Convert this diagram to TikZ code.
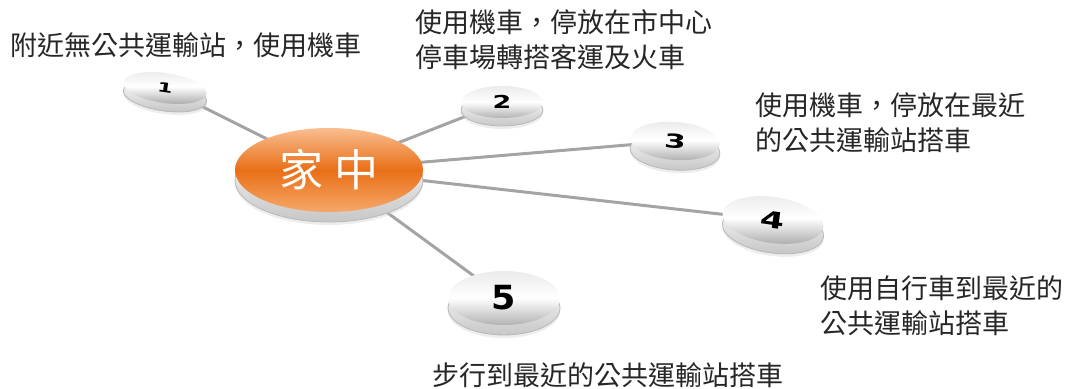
\documentclass[tikz,border=0pt]{standalone}
\usepackage{fontspec}
\newfontfamily\cjk{Noto Sans CJK TC}
\newfontfamily\digfont{DejaVu Sans}
\usetikzlibrary{shapes.geometric,shadows}
\definecolor{orA}{HTML}{F9BE90}
\definecolor{orB}{HTML}{E96F17}
\definecolor{orC}{HTML}{F5A86A}
\definecolor{linegray}{HTML}{A4A4A4}
\newcommand\discnum[3]{\scalebox{1}[#2]{\fontsize{#1}{#1}\selectfont\digfont\bfseries #3}}
\tikzset{
  conn/.style={draw=linegray, line width=1.5pt},
  rimmed/.style={
    general shadow={shadow yshift=-#1-1.5pt, fill=black!20, opacity=0.35},
    general shadow={shadow yshift=-#1, top color=white, bottom color=black!22,
      draw=black!28, line width=0.4pt},
  },
  disc/.style={ellipse, inner sep=0pt, draw=none, rimmed=#1,
    top color=black!8, bottom color=black!30, middle color=white},
  hub/.style={ellipse, inner sep=0pt, draw=none, rimmed=5pt,
    top color=orA, bottom color=orC, middle color=orB},
  lbl/.style={font=\cjk\fontsize{13.5}{17.5}\selectfont, text=black!85,
    inner sep=0pt, align=left, anchor=west},
}
\begin{document}
\begin{tikzpicture}[x=0.5pt, y=-0.5pt]
\useasboundingbox (0,0) rectangle (1076,389);
% connectors (drawn first, nodes on top)
\coordinate (pc) at (329,170);
\coordinate (p1) at (165,88);
\coordinate (p2) at (502,102);
\coordinate (p3) at (675,141);
\coordinate (p4) at (773,220);
\coordinate (p5) at (504,298);
\draw[conn] (pc) -- (p1);
\draw[conn] (pc) -- (p2);
\draw[conn] (pc) -- (p3);
\draw[conn] (pc) -- (p4);
\draw[conn] (pc) -- (p5);
% nodes
\node[disc=4pt, minimum width=42pt, minimum height=15pt, rotate=-8] (n1) at (p1) {\discnum{11}{0.6}{1}};
\node[disc=4pt, minimum width=41pt, minimum height=16pt] (n2) at (p2) {\discnum{13.5}{0.66}{2}};
\node[disc=5pt, minimum width=45pt, minimum height=19pt, rotate=-4] (n3) at (p3) {\discnum{15.5}{0.62}{3}};
\node[disc=5pt, minimum width=51pt, minimum height=23pt, rotate=-8] (n4) at (p4) {\discnum{17.5}{0.65}{4}};
\node[disc=5pt, minimum width=56pt, minimum height=27pt] (n5) at (p5) {\discnum{17.5}{0.95}{5}};
\node[hub, minimum width=94pt, minimum height=42pt] (hc) at (pc)
  {\cjk\fontsize{22}{22}\selectfont\color{white}家\hspace{6pt}中};
% labels
\node[lbl] (t1) at (10,45) {附近無公共運輸站，使用機車};
\node[lbl] (t2) at (415,40) {使用機車，停放在市中心\\停車場轉搭客運及火車};
\node[lbl] (t3) at (755,123) {使用機車，停放在最近\\的公共運輸站搭車};
\node[lbl] (t4) at (820,306) {使用自行車到最近的\\公共運輸站搭車};
\node[lbl] (t5) at (432,375) {步行到最近的公共運輸站搭車};
\end{tikzpicture}
\end{document}
